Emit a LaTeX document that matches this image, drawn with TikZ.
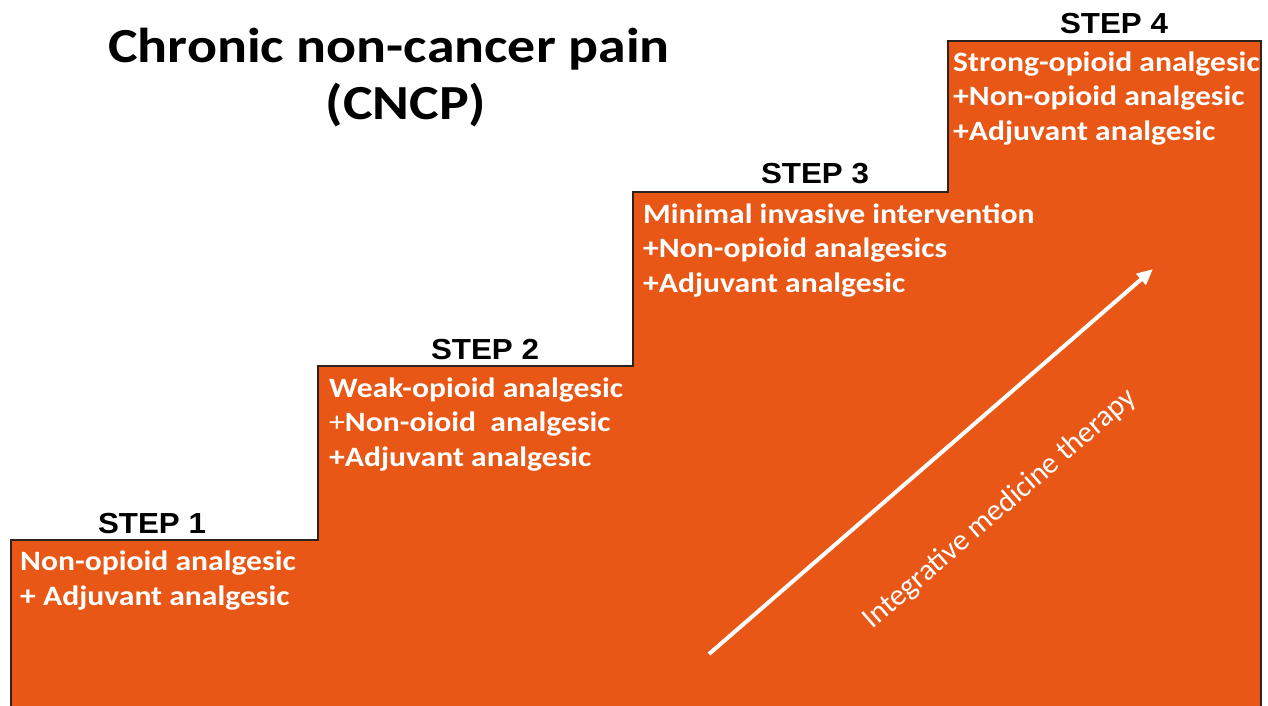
\documentclass[tikz,border=0pt]{standalone}
\usepackage{fontspec}
\setmainfont{Carlito}
\newfontfamily\arialfont{Liberation Sans}
\usetikzlibrary{arrows.meta}
\definecolor{stairorange}{RGB}{233,87,22}
\definecolor{stairedge}{RGB}{45,35,30}
\tikzset{
  steplabel/.style={anchor=base, inner sep=0pt, xscale=1.08, font=\arialfont\bfseries\fontsize{29}{34}\selectfont, text=black},
  steptext/.style={anchor=base west, inner sep=0pt, xscale=1.13, align=left, text=white, font=\bfseries\fontsize{28}{34.5}\selectfont},
  titletext/.style={anchor=base, inner sep=0pt, xscale=1.14, font=\bfseries\fontsize{49}{56}\selectfont},
  arrowtext/.style={inner sep=0pt, text=white, font=\fontsize{30}{34}\selectfont, rotate=40.9},
  therapyarrow/.style={draw=white, line width=4pt, -{Triangle[length=16pt,width=14pt]}}
}
\begin{document}
\begin{tikzpicture}[x=1pt,y=-1pt]
\useasboundingbox (0,0) rectangle (1268,705);
% staircase
\fill[stairorange] (11,706) -- (11,540) -- (318,540) -- (318,366) -- (633,366) -- (633,192) -- (948,192) -- (948,41) -- (1261,41) -- (1261,706) -- cycle;
\draw[stairedge, line width=2.2pt] (11,706) -- (11,540) -- (318,540) -- (318,366) -- (633,366) -- (633,192) -- (948,192) -- (948,41) -- (1261,41) -- (1261,706);
% title
\node[titletext] (title1) at (389,62) {Chronic non-cancer pain};
\node[titletext] (title2) at (406,119) {(CNCP)};
% step labels
\node[steplabel] (s1) at (152,533) {STEP 1};
\node[steplabel] (s2) at (485,359) {STEP 2};
\node[steplabel] (s3) at (815,183) {STEP 3};
\node[steplabel] (s4) at (1114,33) {STEP 4};
% step texts (anchored at the baseline of the last line)
\node[steptext] (t1) at (20,605) {Non-opioid analgesic\\+ Adjuvant analgesic};
\node[steptext] (t2) at (329,466) {Weak-opioid analgesic\\{\mdseries+}Non-oioid\ \ analgesic\\+Adjuvant analgesic};
\node[steptext] (t3) at (643,292) {Minimal invasive intervention\\+Non-opioid analgesics\\+Adjuvant analgesic};
\node[steptext] (t4) at (953,140) {Strong-opioid analgesic\\+Non-opioid analgesic\\+Adjuvant analgesic};
% arrow
\coordinate (aS) at (709,654);
\coordinate (aE) at (1153,269);
\draw[therapyarrow] (aS) -- (aE);
\node[arrowtext] (at) at (1000,509) {Integrative medicine therapy};
\end{tikzpicture}
\end{document}
